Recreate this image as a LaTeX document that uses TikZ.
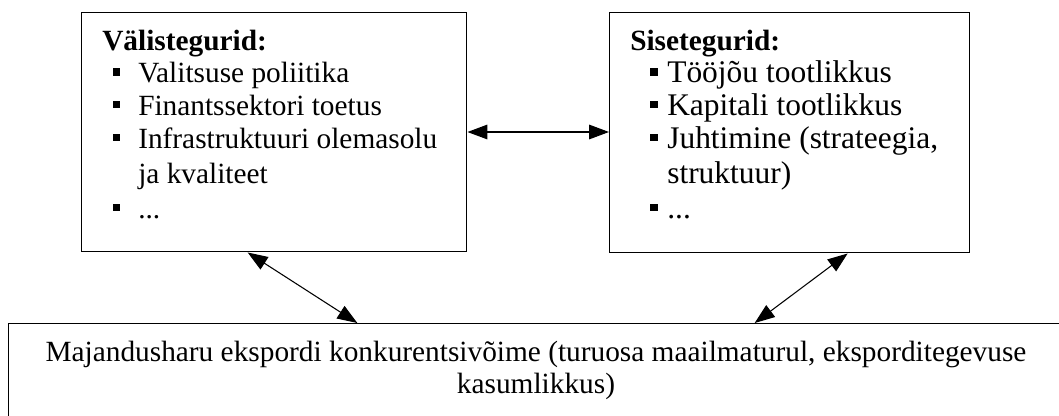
\documentclass[tikz,border=0pt]{standalone}
\usepackage{fontspec}
\setmainfont{Liberation Serif}
\usetikzlibrary{arrows.meta}
\tikzset{
  box/.style={draw=black, line width=1.1pt, inner sep=0pt, anchor=north west},
  txt/.style={anchor=base west, inner sep=0pt, font=\fontsize{22}{25}\selectfont},
  rtxt/.style={anchor=base west, inner sep=0pt, font=\fontsize{23.6}{26}\selectfont},
  ctxt/.style={anchor=base, inner sep=0pt, font=\fontsize{22}{25}\selectfont},
  bul/.style={fill=black, draw=none, inner sep=0pt, minimum size=5.3pt},
  arr/.style={line width=0.8pt, {Triangle[length=15pt,width=11pt]}-{Triangle[length=15pt,width=11pt]}}
}
\begin{document}
\begin{tikzpicture}[x=0.75pt,y=-0.75pt]
\useasboundingbox (0,0) rectangle (1059,415);
\clip (0,0) rectangle (1059,415);
% boxes
\node[box, minimum width=288.75pt, minimum height=179.25pt] (A) at (81,12) {};
\node[box, minimum width=270pt, minimum height=180pt] (B) at (609,12) {};
\node[box, minimum width=810pt, minimum height=90pt] (C) at (8,323) {};
% left box text
\node[txt, font=\fontsize{22}{25}\selectfont\bfseries] (At) at (102,50) {Välistegurid:};
\node[bul] (Ab1) at (116.5,72) {};
\node[txt] (A1) at (138,82.5) {Valitsuse poliitika};
\node[bul] (Ab2) at (116.5,104.5) {};
\node[txt] (A2) at (138,115) {Finantssektori toetus};
\node[bul] (Ab3) at (116.5,137.5) {};
\node[txt] (A3) at (138,148) {Infrastruktuuri olemasolu};
\node[txt] (A4) at (138,183) {ja kvaliteet};
\node[bul] (Ab5) at (116.5,207.5) {};
\node[txt] (A5) at (138,218) {...};
% right box text
\node[txt, font=\fontsize{22}{25}\selectfont\bfseries] (Bt) at (630,50) {Sisetegurid:};
\node[bul] (Bb1) at (654,72) {};
\node[rtxt] (B1) at (667,82.5) {Tööjõu tootlikkus};
\node[bul] (Bb2) at (654,104.5) {};
\node[rtxt] (B2) at (667,115) {Kapitali tootlikkus};
\node[bul] (Bb3) at (654,137.5) {};
\node[rtxt] (B3) at (667,148) {Juhtimine (strateegia,};
\node[rtxt] (B4) at (667,183) {struktuur)};
\node[bul] (Bb5) at (654,207.5) {};
\node[rtxt] (B5) at (667,218) {...};
% bottom text
\node[ctxt] (C1) at (536,361) {Majandusharu ekspordi konkurentsivõime (turuosa maailmaturul, eksporditegevuse};
\node[ctxt] (C2) at (536,393) {kasumlikkus)};
% connectors
\draw[arr] ([yshift=-90pt]A.north east) -- ([yshift=-90pt]B.north west);
\draw[arr] ([xshift=125pt]A.south west) -- ([xshift=262pt]C.north west);
\draw[arr] ([xshift=179pt]B.south west) -- ([xshift=560pt]C.north west);
\end{tikzpicture}
\end{document}
